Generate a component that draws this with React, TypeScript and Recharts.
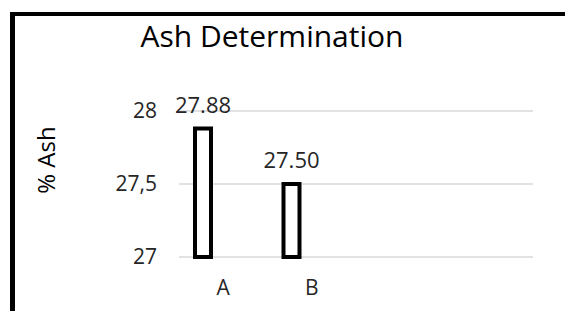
import { BarChart, Bar, XAxis, YAxis, CartesianGrid, LabelList } from "recharts";

const categories = ["A", "B", "", ""];
const ashValues = [27.88, 27.5, null, null];
const emptySeries1 = [null, null, null, null];
const emptySeries2 = [null, null, null, null];
const yTicks = [27, 27.5, 28];

const FONT = "'Open Sans', sans-serif";
const TEXT = "#262626";

const data = categories.map((name, i) => ({
  name,
  ash: ashValues[i],
  s2: emptySeries1[i],
  s3: emptySeries2[i],
}));

export default function App() {
  return (
    <div
      style={{
        position: "fixed",
        left: 0,
        top: 0,
        width: 565,
        height: 311,
        overflow: "hidden",
        background: "#fff",
      }}
    >
      <div
        style={{
          position: "absolute",
          left: 10,
          top: 12,
          width: 700,
          height: 400,
          borderLeft: "5px solid #000",
          borderTop: "4px solid #000",
        }}
      />
      <div style={{ position: "absolute", left: 0, top: 0 }}>
        <BarChart
          width={565}
          height={311}
          data={data}
          margin={{ top: 111, right: 32, bottom: 14, left: 0 }}
          barSize={16}
          barGap={4}
          style={{ fontFamily: FONT }}
        >
          <CartesianGrid vertical={false} stroke="#d9d9d9" strokeWidth={1.5} />
          <XAxis
            dataKey="name"
            height={40}
            axisLine={false}
            tickLine={false}
            tickSize={0}
            tickMargin={23}
            tick={{ fill: TEXT, fontSize: 21 }}
          />
          <YAxis
            width={179}
            domain={[27, 28]}
            ticks={yTicks}
            axisLine={false}
            tickLine={false}
            tickSize={0}
            tickMargin={22}
            tick={{ fill: TEXT, fontSize: 21 }}
            tickFormatter={(v: number) => String(v).replace(".", ",")}
          />
          <Bar dataKey="ash" fill="#fff" stroke="#000" strokeWidth={4} isAnimationActive={false}>
            <LabelList
              dataKey="ash"
              position="top"
              offset={16}
              fill={TEXT}
              fontSize={22}
              formatter={(v: any) => (v == null ? "" : Number(v).toFixed(2))}
            />
          </Bar>
          <Bar dataKey="s2" fill="#fff" stroke="#000" strokeWidth={4} isAnimationActive={false} />
          <Bar dataKey="s3" fill="#fff" stroke="#000" strokeWidth={4} isAnimationActive={false} />
        </BarChart>
      </div>
      <svg
        width={565}
        height={311}
        style={{ position: "absolute", left: 0, top: 0, pointerEvents: "none" }}
      >
        <text x={272} y={47} textAnchor="middle" fill="#000" fontSize={30} fontFamily={FONT}>
          Ash Determination
        </text>
        <text
          x={55}
          y={160}
          textAnchor="middle"
          fill="#000"
          fontSize={24}
          fontFamily={FONT}
          transform="rotate(-90 55 160)"
        >
          % Ash
        </text>
      </svg>
    </div>
  );
}
